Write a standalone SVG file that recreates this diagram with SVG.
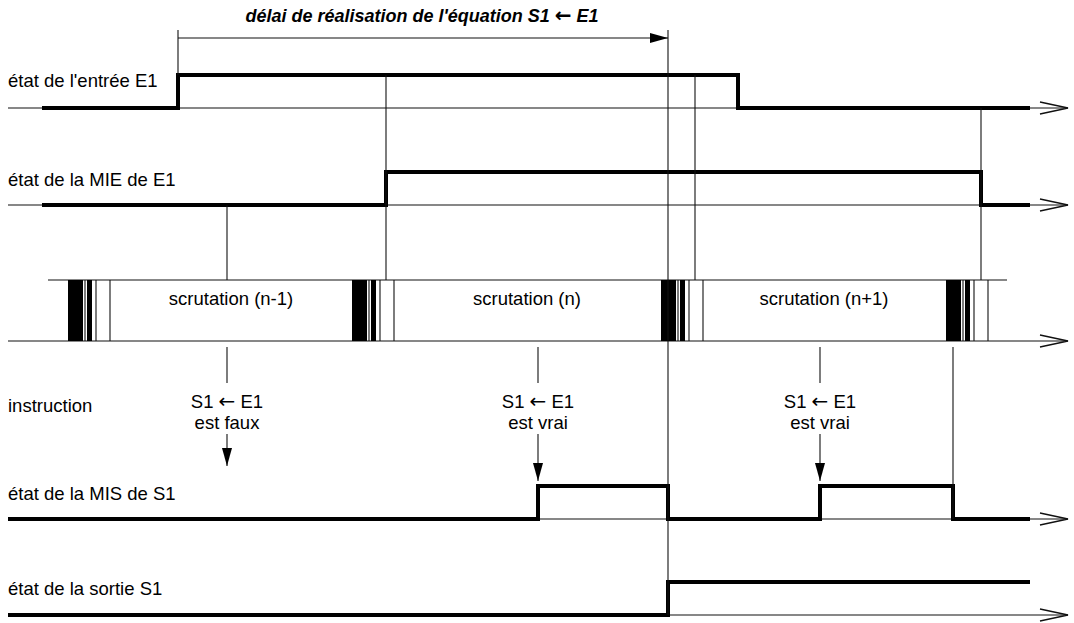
<svg xmlns="http://www.w3.org/2000/svg" width="1074" height="623" viewBox="0 0 1074 623">
<style>
text{font-family:"Liberation Sans",Arial,sans-serif;font-size:18.5px;fill:#000}
.title{font-weight:bold;font-style:italic;font-size:18px}
.mid{text-anchor:middle}
.arr{font-family:"DejaVu Sans",sans-serif;font-size:20px;font-style:normal}
.thin{stroke:#111;stroke-width:1.1;fill:none}
.thick{stroke:#000;stroke-width:4;fill:none;stroke-linejoin:miter}
.bar{fill:#000}
</style>
<defs>
<marker id="open" viewBox="0 0 30 14" refX="29" refY="7" markerWidth="30" markerHeight="14" markerUnits="userSpaceOnUse" orient="auto">
<path d="M1,1 L29,7 L1,13" fill="none" stroke="#111" stroke-width="1.3"/>
</marker>
<marker id="solid" viewBox="0 0 18 10" refX="18" refY="5" markerWidth="18" markerHeight="10" markerUnits="userSpaceOnUse" orient="auto">
<path d="M0,0 L18,5 L0,10 Z" fill="#000"/>
</marker>
<g id="stripes">
<rect x="0" y="280" width="15" height="61" class="bar"/>
<rect x="19" y="280" width="5" height="61" class="bar"/>
<line x1="17" y1="280" x2="17" y2="341" class="thin"/>
<line x1="28" y1="280" x2="28" y2="341" class="thin"/>
<line x1="42" y1="280" x2="42" y2="341" class="thin"/>
</g>
</defs>
<rect width="1074" height="623" fill="#fff"/>

<g id="title">
<text class="title mid" x="422" y="22">délai de réalisation de l'équation S1 <tspan class="arr" font-size="19px" font-weight="bold">←</tspan> E1</text>
</g>

<g id="signal-E1">
<text x="8" y="87">état de l'entrée E1</text>
<line x1="8" y1="108" x2="1068" y2="108" class="thin" marker-end="url(#open)"/>
<path d="M42,108 H178 V75 H738 V108 H1030" class="thick"/>
</g>

<g id="signal-MIE">
<text x="8" y="186">état de la MIE de E1</text>
<line x1="8" y1="205" x2="1068" y2="205" class="thin" marker-end="url(#open)"/>
<path d="M42,205 H386 V172 H981 V205 H1030" class="thick"/>
</g>

<g id="scan">
<line x1="48" y1="280" x2="1007" y2="280" class="thin"/>
<line x1="8" y1="341" x2="1068" y2="341" class="thin" marker-end="url(#open)"/>
<use href="#stripes" x="68"/>
<use href="#stripes" x="352"/>
<use href="#stripes" x="661"/>
<use href="#stripes" x="946"/>
<text class="mid" x="231" y="305">scrutation (n-1)</text>
<text class="mid" x="527" y="305">scrutation (n)</text>
<text class="mid" x="824" y="305">scrutation (n+1)</text>
</g>

<g id="instruction">
<text x="8" y="412">instruction</text>
<text class="mid" x="227" y="408">S1 <tspan class="arr">←</tspan> E1</text>
<text class="mid" x="227" y="429">est faux</text>
<text class="mid" x="538" y="408">S1 <tspan class="arr">←</tspan> E1</text>
<text class="mid" x="538" y="429">est vrai</text>
<text class="mid" x="820" y="408">S1 <tspan class="arr">←</tspan> E1</text>
<text class="mid" x="820" y="429">est vrai</text>
</g>

<g id="signal-MIS">
<text x="8" y="500">état de la MIS de S1</text>
<line x1="8" y1="519" x2="1068" y2="519" class="thin" marker-end="url(#open)"/>
<path d="M8,519 H538 V486 H668 V519 H820 V486 H953 V519 H1030" class="thick"/>
</g>

<g id="signal-S1">
<text x="8" y="595">état de la sortie S1</text>
<line x1="8" y1="615" x2="1068" y2="615" class="thin" marker-end="url(#open)"/>
<path d="M8,615 H668 V582 H1030" class="thick"/>
</g>

<g id="connectors">
<line x1="178" y1="30" x2="178" y2="75" class="thin"/>
<line x1="668" y1="30" x2="668" y2="615" class="thin"/>
<line x1="178" y1="38" x2="668" y2="38" class="thin" stroke-width="1.5" marker-end="url(#solid)"/>
<line x1="386" y1="75" x2="386" y2="280" class="thin"/>
<line x1="695" y1="75" x2="695" y2="280" class="thin"/>
<line x1="981" y1="108" x2="981" y2="280" class="thin"/>
<line x1="227" y1="205" x2="227" y2="280" class="thin"/>
<line x1="227" y1="347" x2="227" y2="383" class="thin"/>
<line x1="538" y1="347" x2="538" y2="383" class="thin"/>
<line x1="820" y1="347" x2="820" y2="383" class="thin"/>
<line x1="227" y1="434" x2="227" y2="466" class="thin" marker-end="url(#solid)"/>
<line x1="538" y1="434" x2="538" y2="481" class="thin" marker-end="url(#solid)"/>
<line x1="820" y1="434" x2="820" y2="481" class="thin" marker-end="url(#solid)"/>
<line x1="953" y1="347" x2="953" y2="519" class="thin"/>
</g>
</svg>
